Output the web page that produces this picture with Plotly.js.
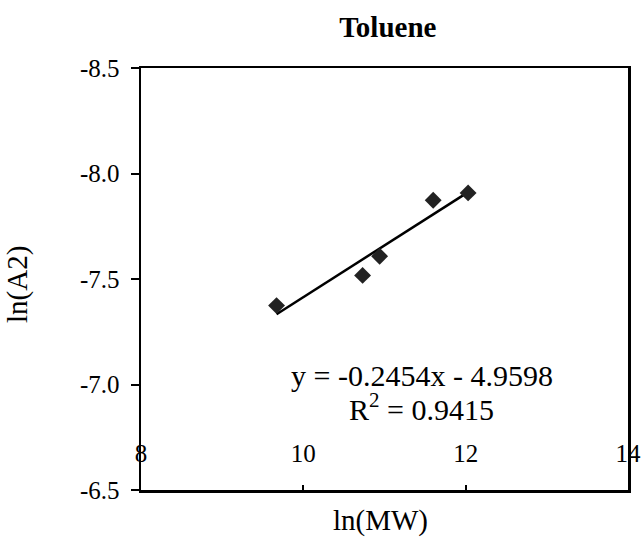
<!DOCTYPE html>
<html>
<head>
<meta charset="utf-8">
<script src="https://cdn.plot.ly/plotly-3.0.1.min.js"></script>
<style>html,body{margin:0;padding:0;background:#fff;}</style>
</head>
<body>
<div id="chart" style="width:641px;height:545px;"></div>
<script>
const lnMW = [9.67, 10.73, 10.94, 11.60, 12.03];
const lnA2 = [-7.374, -7.517, -7.608, -7.873, -7.908];
const slope = -0.2454;
const intercept = -4.9598;
const xTickVals = [8, 10, 12, 14];
const xTickText = ["8", "10", "12", "14"];
const yTickVals = [-8.5, -8.0, -7.5, -7.0, -6.5];
const yTickText = ["-8.5", "-8.0", "-7.5", "-7.0", "-6.5"];
const xTitle = "ln(MW)";
const yTitle = "ln(A2)";
const eqText = "y = -0.2454x - 4.9598";
const r2Text = "R<sup>2</sup> = 0.9415";

const xMin = Math.min(...lnMW), xMax = Math.max(...lnMW);
const trendX = [xMin, xMax];
const trendY = trendX.map(v => slope * v + intercept);

const font = "Liberation Serif, Times New Roman, serif";

const data = [
  {x: trendX, y: trendY, mode: "lines", line: {color: "#000", width: 2.5}, hoverinfo: "skip", showlegend: false},
  {x: lnMW, y: lnA2, mode: "markers", marker: {symbol: "diamond", size: 13, color: "#222"}, showlegend: false}
];

const layout = {
  width: 641, height: 545,
  margin: {l: 141, r: 13, t: 68, b: 55},
  paper_bgcolor: "#fff", plot_bgcolor: "#fff",
  font: {family: font, color: "#000", size: 25},
  title: {text: "<b>Toluene</b>", font: {family: font, size: 29, color: "#000"}, x: 0.605, xanchor: "center", y: 0.95, yanchor: "middle"},
  xaxis: {
    range: [8, 14], tickvals: xTickVals, ticktext: xTickText,
    ticks: "inside", ticklen: 5, tickwidth: 2, tickcolor: "#000",
    ticklabelposition: "inside", ticklabelstandoff: 20, ticklabeloverflow: "allow",
    showgrid: false, zeroline: false,
    showline: true, linecolor: "#000", linewidth: 2.5, mirror: true,
    tickfont: {family: font, size: 25, color: "#000"},
    automargin: false
  },
  yaxis: {
    range: [-6.5, -8.5], tickvals: yTickVals, ticktext: yTickText,
    ticks: "outside", ticklen: 8, tickwidth: 2, tickcolor: "#000",
    ticklabelstandoff: 6,
    showgrid: false, zeroline: false,
    showline: true, linecolor: "#000", linewidth: 2.5, mirror: true,
    tickfont: {family: font, size: 25, color: "#000"},
    automargin: false
  },
  annotations: [
    {x: 11.46, y: -7.045, xref: "x", yref: "y", text: eqText, showarrow: false, font: {family: font, size: 30, color: "#000"}, xanchor: "center", yanchor: "middle"},
    {x: 11.46, y: -6.895, xref: "x", yref: "y", text: r2Text, showarrow: false, font: {family: font, size: 30, color: "#000"}, xanchor: "center", yanchor: "middle"},
    {x: 380, y: 520, xref: "paper", yref: "paper", text: xTitle, showarrow: false, font: {family: font, size: 29, color: "#000"}, xanchor: "center", yanchor: "middle"},
    {x: 17, y: 285, xref: "paper", yref: "paper", text: yTitle, textangle: -90, showarrow: false, font: {family: font, size: 29, color: "#000"}, xanchor: "center", yanchor: "middle"}
  ]
};

// convert pixel-specified title positions to paper coordinates
const pw = layout.width - layout.margin.l - layout.margin.r;
const ph = layout.height - layout.margin.t - layout.margin.b;
layout.annotations.slice(2).forEach(a => {
  a.x = (a.x - layout.margin.l) / pw;
  a.y = (layout.height - layout.margin.b - a.y) / ph;
});

Plotly.newPlot("chart", data, layout, {displayModeBar: false, staticPlot: true});
</script>
</body>
</html>
